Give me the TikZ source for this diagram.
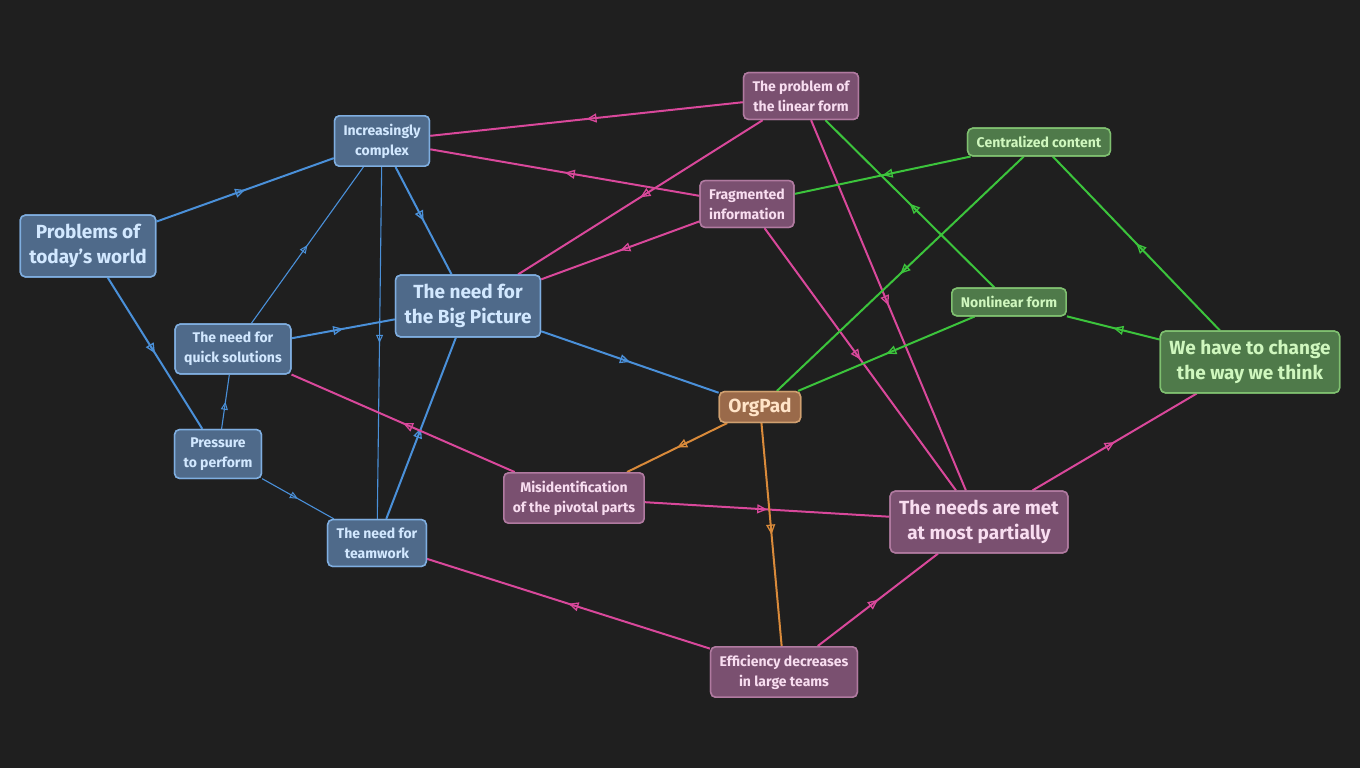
\documentclass[tikz,border=0pt]{standalone}
\usepackage{fontspec}
\setmainfont{Fira Sans}
\usetikzlibrary{decorations.markings,arrows.meta}
\definecolor{bg}{HTML}{1F1F1F}
\definecolor{bfill}{HTML}{4F6A8A}\definecolor{bdraw}{HTML}{7FAEE0}\definecolor{btext}{HTML}{D2E8FF}\definecolor{bline}{HTML}{4A90D9}
\definecolor{pfill}{HTML}{7A5070}\definecolor{pdraw}{HTML}{B07AA0}\definecolor{ptext}{HTML}{F8DDF0}\definecolor{pline}{HTML}{D9489B}
\definecolor{gfill}{HTML}{4F7A4A}\definecolor{gdraw}{HTML}{7FC070}\definecolor{gtext}{HTML}{CFF7BE}\definecolor{gline}{HTML}{3CC43C}
\definecolor{ofill}{HTML}{9A6A4A}\definecolor{odraw}{HTML}{D0A070}\definecolor{otext}{HTML}{FFE4C8}\definecolor{oline}{HTML}{D98A3A}
\tikzset{
 box/.style={rounded corners=5pt,align=center,font=\bfseries\fontsize{14}{20}\selectfont,inner xsep=9pt,inner ysep=8pt,line width=1.5pt},
 big/.style={font=\bfseries\fontsize{19}{25}\selectfont,inner ysep=9pt},
 B/.style={box,fill=bfill,draw=bdraw,text=btext},
 P/.style={box,fill=pfill,draw=pdraw,text=ptext},
 G/.style={box,fill=gfill,draw=gdraw,text=gtext},
 O/.style={box,fill=ofill,draw=odraw,text=otext},
 mid/.style={postaction={decorate},decoration={markings,mark=at position 0.5 with {\arrow{Triangle[open,length=10pt,width=9pt,line width=1.3pt]}}}},
 e/.style={mid,line width=2pt},
 t/.style={line width=1.1pt,postaction={decorate},decoration={markings,mark=at position 0.5 with {\arrow{Triangle[open,length=8pt,width=7pt,line width=1pt]}}}},
}
\begin{document}
\begin{tikzpicture}[x=1pt,y=-1pt]
\fill[bg] (0,0) rectangle (1360,768);
\useasboundingbox (0,0) rectangle (1360,768);
\node[B,big] (pw) at (88,246) {Problems of\\today's world};
\node[B] (ic) at (382,141) {Increasingly\\complex};
\node[B,big] (bp) at (468,306) {The need for\\the Big Picture};
\node[B] (qs) at (233,349) {The need for\\quick solutions};
\node[B] (pp) at (218,454) {Pressure\\to perform};
\node[B] (tw) at (377,543) {The need for\\teamwork};
\node[P] (lf) at (801,96) {The problem of\\the linear form};
\node[P] (fi) at (747,204) {Fragmented\\information};
\node[G] (cc) at (1039,142) {Centralized content};
\node[G] (nf) at (1009,302) {Nonlinear form};
\node[G,big] (wc) at (1250,362) {We have to change\\the way we think};
\node[O,big,inner ysep=6pt] (op) at (760,407) {OrgPad};
\node[P] (mi) at (574,498) {Misidentification\\of the pivotal parts};
\node[P,big] (nm) at (979,522) {The needs are met\\at most partially};
\node[P] (ef) at (784,672) {Efficiency decreases\\in large teams};
\begin{scope}[on background layer/.try]
\end{scope}
% blue
\draw[bline,e] (pw) -- (ic);
\draw[bline,e] (pw) -- (pp);
\draw[bline,t] (pp) -- (qs);
\draw[bline,t] (pp) -- (tw);
\draw[bline,t] (qs) -- (ic);
\draw[bline,e] (qs) -- (bp);
\draw[bline,e] (ic) -- (bp);
\draw[bline,t] (ic) -- (tw);
\draw[bline,e] (tw) -- (bp);
\draw[bline,e] (bp) -- (op);
% pink
\draw[pline,e] (lf) -- (ic);
\draw[pline,e] (fi) -- (ic);
\draw[pline,e] (fi) -- (bp);
\draw[pline,e] (lf) -- (bp);
\draw[pline,e] (lf) -- (nm);
\draw[pline,e] (fi) -- (nm);
\draw[pline,e] (mi) -- (qs);
\draw[pline,e] (mi) -- (nm);
\draw[pline,e] (nm) -- (wc);
\draw[pline,e] (ef) -- (tw);
\draw[pline,e] (ef) -- (nm);
% green
\draw[gline,e] (nf) -- (lf);
\draw[gline,e] (cc) -- (fi);
\draw[gline,e] (cc) -- (op);
\draw[gline,e] (nf) -- (op);
\draw[gline,e] (wc) -- (nf);
\draw[gline,e] (wc) -- (cc);
% orange
\draw[oline,e] (op) -- (mi);
\draw[oline,e] (op) -- (ef);
% redraw nodes on top
\node[B,big] at (pw) {Problems of\\today's world};
\node[B] at (ic) {Increasingly\\complex};
\node[B,big] at (bp) {The need for\\the Big Picture};
\node[B] at (qs) {The need for\\quick solutions};
\node[B] at (pp) {Pressure\\to perform};
\node[B] at (tw) {The need for\\teamwork};
\node[P] at (lf) {The problem of\\the linear form};
\node[P] at (fi) {Fragmented\\information};
\node[G] at (cc) {Centralized content};
\node[G] at (nf) {Nonlinear form};
\node[G,big] at (wc) {We have to change\\the way we think};
\node[O,big,inner ysep=6pt] at (op) {OrgPad};
\node[P] at (mi) {Misidentification\\of the pivotal parts};
\node[P,big] at (nm) {The needs are met\\at most partially};
\node[P] at (ef) {Efficiency decreases\\in large teams};
\end{tikzpicture}
\end{document}
